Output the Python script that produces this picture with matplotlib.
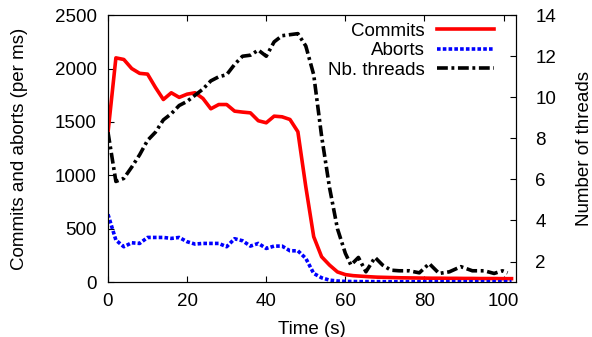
import matplotlib
matplotlib.use("Agg")
import matplotlib.pyplot as plt

plt.rcParams["font.family"] = ["Liberation Sans", "DejaVu Sans"]

# Commits / aborts per ms, sampled every 2 s
t_rate = [0, 2, 4, 6, 8, 10, 12, 14, 16, 18, 20, 22, 24, 26, 28, 30, 32, 34, 36, 38,
          40, 42, 44, 46, 48, 50, 52, 54, 56, 58, 60, 62, 64, 66, 68, 70, 72, 74, 76,
          78, 80, 82, 84, 86, 88, 90, 92, 94, 96, 98, 100, 102]
commits = [1400, 2100, 2085, 2000, 1955, 1948, 1823, 1710, 1773, 1730, 1760, 1773, 1720,
           1623, 1663, 1663, 1601, 1592, 1585, 1511, 1492, 1554, 1548, 1523, 1408, 893,
           425, 237, 159, 95, 70, 60, 55, 50, 46, 44, 42, 40, 39, 38, 37, 36, 36, 35,
           35, 34, 34, 33, 33, 33, 32, 32]
aborts = [634, 393, 331, 368, 362, 418, 418, 418, 409, 418, 378, 356, 362, 362, 362, 331,
          406, 387, 337, 362, 315, 337, 337, 293, 293, 222, 81, 40, 18, 10, 6, 5, 4, 4,
          4, 3, 3, 3, 3, 3, 3, 3, 3, 3, 3, 3, 3, 3, 3, 3, 3, 3]

# Number of threads (right axis)
t_thr = [0, 2, 4, 6, 8, 10, 12, 14, 16, 18, 20, 22, 24, 26, 28, 30, 32, 34, 36, 38, 40,
         42, 44, 46, 48, 50, 52, 54, 56, 58, 60, 61.4, 63.3, 65.2, 67.5, 69.4, 71.5,
         73.6, 76.1, 78.7, 81.2, 83.7, 86.3, 89.2, 92.1, 95.1, 97.6, 99.7, 101]
threads = [8.3, 5.9, 6.05, 6.6, 7.2, 7.9, 8.3, 8.9, 9.2, 9.6, 9.8, 10.1, 10.4, 10.8, 11.0,
           11.1, 11.6, 12.0, 12.05, 12.3, 12.0, 12.7, 13.0, 13.05, 13.1, 12.5, 11.1, 8.1,
           5.6, 3.6, 2.4, 1.83, 2.2, 1.5, 2.2, 1.83, 1.58, 1.55, 1.55, 1.45, 1.9, 1.42,
           1.5, 1.75, 1.55, 1.55, 1.42, 1.55, 1.45]

FS = 13.5

fig = plt.figure(figsize=(5.92, 3.37), dpi=100)
ax = fig.add_axes([0.1824, 0.163, 0.689, 0.792])
ax2 = ax.twinx()

l1, = ax.plot(t_rate, commits, color="#ff0000", lw=2.6, label="Commits")
l2, = ax.plot(t_rate, aborts, color="#0000ff", lw=2.6, linestyle=(0, (1, 0.6)), label="Aborts")
l3, = ax2.plot(t_thr, threads, color="black", lw=2.6, linestyle=(0, (3, 1, 0.8, 1)),
               label="Nb. threads")

ax.set_xlim(0, 103.1)
ax.set_ylim(0, 2500)
ax2.set_ylim(1, 14)
ax.set_xticks([0, 20, 40, 60, 80, 100])
ax.set_yticks([0, 500, 1000, 1500, 2000, 2500])
ax2.set_yticks([2, 4, 6, 8, 10, 12, 14])

ax.tick_params(axis="x", direction="in", top=True, labelsize=FS, length=4, pad=8)
ax.tick_params(axis="y", direction="in", labelsize=FS, length=4, pad=8)
ax2.tick_params(axis="y", direction="in", labelsize=FS, length=4, pad=14)

ax.set_xlabel("Time (s)", fontsize=FS, labelpad=8)
ax.set_ylabel("Commits and aborts (per ms)", fontsize=FS, labelpad=19)
ax2.set_ylabel("Number of threads", fontsize=FS, labelpad=14)

ax.legend(handles=[l1, l2, l3], loc="upper right", bbox_to_anchor=(0.965, 1.0),
          frameon=False, fontsize=FS, markerfirst=False, handlelength=3.05,
          labelspacing=0.13, borderaxespad=0, handletextpad=0.64)

fig.savefig("out.png", dpi=100)
